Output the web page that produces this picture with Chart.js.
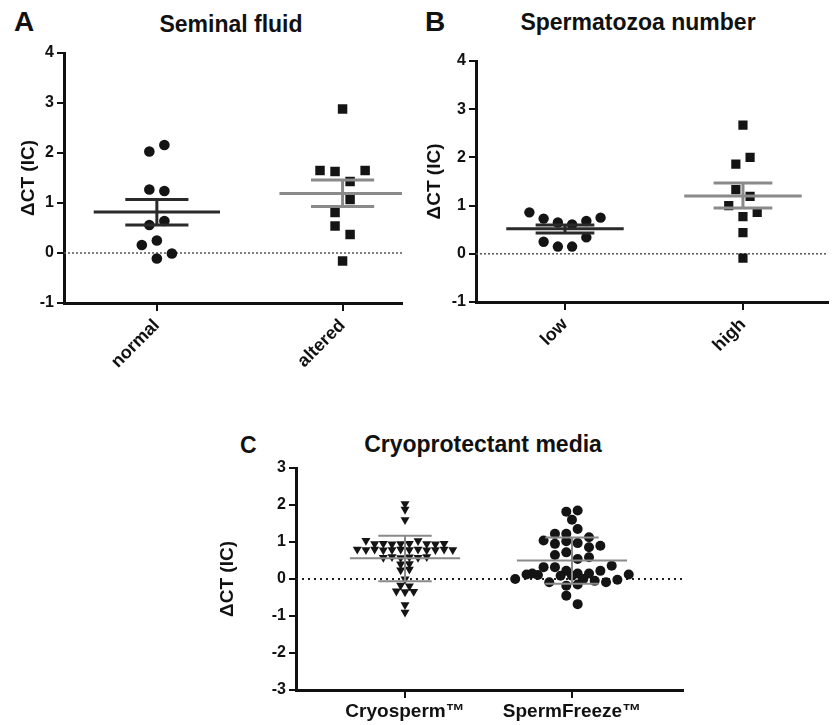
<!DOCTYPE html>
<html>
<head>
<meta charset="utf-8">
<script src="https://cdn.jsdelivr.net/npm/chart.js@4.4.1/dist/chart.umd.min.js"></script>
<style>
  body { margin: 0; background: #fff; width: 834px; height: 725px; position: relative; overflow: hidden;
         font-family: "Liberation Sans", Arial, sans-serif; font-weight: bold; color: #111; }
  canvas { position: absolute; }
  .t { position: absolute; white-space: nowrap; line-height: 1; }
  .c { transform: translateX(-50%); }
</style>
</head>
<body>
<div class="t" style="left:14px;top:8px;font-size:28px">A</div>
<div class="t c" style="left:231px;top:13px;font-size:23px">Seminal fluid</div>
<div class="t" style="left:425px;top:8px;font-size:28px">B</div>
<div class="t c" style="left:638px;top:11px;font-size:23px">Spermatozoa number</div>
<div class="t" style="left:240px;top:434px;font-size:23px">C</div>
<div class="t c" style="left:483px;top:433px;font-size:23px">Cryoprotectant media</div>

<canvas id="chartA" width="410" height="400" style="left:0;top:0"></canvas>
<canvas id="chartB" width="424" height="400" style="left:410px;top:0"></canvas>
<canvas id="chartC" width="500" height="305" style="left:200px;top:420px"></canvas>

<script>
// datos
// A - Seminal fluid
const catsA = ['normal', 'altered'];
const normalVals = [2.03, 2.16, 1.27, 1.24, 0.56, 0.64, 0.16, 0.25, -0.01, -0.11];
const alteredVals = [2.88, 1.65, 1.63, 1.43, 1.65, 0.81, 1.07, 0.54, 0.37, -0.16];
const meanA = [0.82, 1.19];
const semHiA = [1.07, 1.46];
const semLoA = [0.56, 0.93];

// B - Spermatozoa number
const catsB = ['low', 'high'];
const lowVals = [0.86, 0.73, 0.65, 0.61, 0.68, 0.75, 0.25, 0.15, 0.15, 0.34];
const highVals = [2.67, 1.86, 2.00, 1.33, 1.19, 1.00, 0.77, 0.86, 0.44, -0.09];
const meanB = [0.52, 1.20];
const semHiB = [0.60, 1.47];
const semLoB = [0.43, 0.95];

// C - Cryoprotectant media
const catsC = ['Cryosperm\u2122', 'SpermFreeze\u2122'];
const cryoVals = [2.03, 1.88, 1.60,
  1.04, 0.95, 0.96, 0.94, 0.95, 0.96, 1.03, 0.95, 0.94, 0.96,
  0.80, 0.79, 0.80, 0.78, 0.79, 0.80, 0.79, 0.80, 0.78, 0.79, 0.80, 0.79,
  0.58, 0.60, 0.57, 0.59, 0.58, 0.60,
  0.40, 0.41, 0.24, 0.26, 0.00, -0.17, -0.19, -0.33, -0.35, -0.34, -0.70, -0.90];
const freezeVals = [1.82, 1.85, 1.60,
  1.22, 1.22, 1.35, 1.13,
  1.04, 0.95, 1.02, 0.97, 0.86, 0.90,
  0.65, 0.72, 0.54, 0.59,
  0.15, 0.32, 0.32, 0.22, 0.15, 0.15, 0.22, 0.36,
  0.00, 0.12, 0.11, -0.09, 0.09, 0.09, 0.00, -0.05, -0.09, -0.02, 0.12,
  -0.18, -0.15, -0.45, -0.68];
const meanC = [0.56, 0.50];
const sdHiC = [1.17, 1.12];
const sdLoC = [-0.06, -0.13];

const yRangeAB = [-1, 4];
const yRangeC = [-3, 3];

// ordena los puntos en filas, como un grafico de dispersion de GraphPad
function swarm(vals, center, rowH, step) {
  const idx = vals.map((v, i) => i).sort((a, b) => vals[b] - vals[a] || a - b);
  const out = [];
  let row = [], anchor = null;
  function flush() {
    row.sort((a, b) => a - b);
    row.forEach((i, k) => { out[i] = { x: center + (k - (row.length - 1) / 2) * step, y: vals[i] }; });
  }
  for (const i of idx) {
    if (anchor === null || anchor - vals[i] < rowH) {
      if (anchor === null) anchor = vals[i];
      row.push(i);
    } else {
      flush();
      row = [i];
      anchor = vals[i];
    }
  }
  flush();
  return out;
}

function seg(x1, y1, x2, y2, color, width) {
  return { data: [{ x: x1, y: y1 }, { x: x2, y: y2 }], showLine: true, borderColor: color,
           borderWidth: width, pointRadius: 0, borderCapStyle: 'butt', order: 0 };
}

// linea de la media + barras de error
function bars(center, mean, hi, lo, color, width, meanHalf, capHalf) {
  return [
    seg(center - meanHalf, mean, center + meanHalf, mean, color, width),
    seg(center - capHalf, hi, center + capHalf, hi, color, width),
    seg(center - capHalf, lo, center + capHalf, lo, color, width),
    seg(center, lo, center, hi, color, width)
  ];
}

function dots(points, style, radius, rotation) {
  return { data: points, pointStyle: style, pointRadius: radius, pointRotation: rotation || 0,
           backgroundColor: '#141414', borderWidth: 0, order: 1 };
}

function panel(id, p) {
  const zero = { data: [{ x: p.xMin, y: 0 }, { x: p.xMax, y: 0 }], showLine: true, borderColor: p.zeroColor,
                 borderWidth: p.zeroWidth, borderDash: p.zeroDash, pointRadius: 0, order: 2 };
  new Chart(document.getElementById(id), {
    type: 'scatter',
    data: { datasets: [zero].concat(p.sets) },
    options: {
      responsive: false,
      animation: false,
      layout: { padding: { top: p.padTop, right: p.padRight, left: 0, bottom: 0 } },
      plugins: { legend: { display: false }, tooltip: { enabled: false } },
      scales: {
        x: {
          type: 'linear', min: p.xMin, max: p.xMax,
          afterFit: s => { s.height = p.xHeight; },
          afterBuildTicks: s => { s.ticks = p.cats.map((c, i) => ({ value: i + 1 })); },
          ticks: { callback: v => p.cats[v - 1], autoSkip: false, minRotation: p.rot, maxRotation: p.rot,
                   padding: p.xPad, color: '#111', font: { family: 'Liberation Sans', size: p.xFont, weight: 'bold' } },
          grid: { display: true, drawOnChartArea: false, drawTicks: true, tickLength: 8, lineWidth: 2, color: '#111' },
          border: { display: true, width: 3, color: '#111' }
        },
        y: {
          min: p.yRange[0], max: p.yRange[1],
          afterFit: s => { s.width = p.yWidth; },
          ticks: { stepSize: 1, padding: 3, color: '#111', font: { family: 'Liberation Sans', size: 16, weight: 'bold' } },
          grid: { display: true, drawOnChartArea: false, drawTicks: true, tickLength: 7, lineWidth: 2, color: '#111' },
          border: { display: true, width: 3, color: '#111' },
          title: { display: true, text: '\u0394CT (IC)', color: '#111', padding: { top: p.titlePad, bottom: 0 },
                   font: { family: 'Liberation Sans', size: 19, weight: 'bold' } }
        }
      }
    }
  });
}

const dark = '#2a2a2a', grey = '#8a8a8a';

panel('chartA', {
  cats: catsA, yRange: yRangeAB, xMin: 0.5, xMax: 2.32,
  padTop: 53, padRight: 8, yWidth: 64, xHeight: 97, rot: 45, xPad: 4, xFont: 18, titlePad: 17,
  zeroColor: '#555', zeroWidth: 1.5, zeroDash: [2, 2],
  sets: [
    ...bars(1, meanA[0], semHiA[0], semLoA[0], dark, 3, 0.34, 0.17),
    ...bars(2, meanA[1], semHiA[1], semLoA[1], grey, 3, 0.34, 0.17),
    dots(swarm(normalVals, 1, 0.28, 0.081), 'circle', 5.3),
    dots(swarm(alteredVals, 2, 0.28, 0.081), 'rect', 6.7)
  ]
});

panel('chartB', {
  cats: catsB, yRange: yRangeAB, xMin: 0.5, xMax: 2.475,
  padTop: 61, padRight: 0, yWidth: 66, xHeight: 98, rot: 45, xPad: 4, xFont: 18, titlePad: 13.5,
  zeroColor: '#555', zeroWidth: 1.5, zeroDash: [2, 2],
  sets: [
    ...bars(1, meanB[0], semHiB[0], semLoB[0], dark, 3, 0.33, 0.165),
    ...bars(2, meanB[1], semHiB[1], semLoB[1], grey, 3, 0.33, 0.165),
    dots(swarm(lowVals, 1, 0.28, 0.08), 'circle', 5.2),
    dots(swarm(highVals, 2, 0.28, 0.08), 'rect', 6.5)
  ]
});

panel('chartC', {
  cats: catsC, yRange: yRangeC, xMin: 0.347, xMax: 2.665,
  padTop: 48, padRight: 17, yWidth: 96, xHeight: 35, rot: 0, xPad: 2, xFont: 19, titlePad: 16.5,
  zeroColor: '#222', zeroWidth: 2, zeroDash: [2, 4],
  sets: [
    ...bars(1, meanC[0], sdHiC[0], sdLoC[0], grey, 2, 0.33, 0.16),
    ...bars(2, meanC[1], sdHiC[1], sdLoC[1], grey, 2, 0.33, 0.16),
    dots(swarm(cryoVals, 1, 0.12, 0.052), 'triangle', 5.2, 180),
    dots(swarm(freezeVals, 2, 0.24, 0.068), 'circle', 5)
  ]
});
</script>
</body>
</html>
